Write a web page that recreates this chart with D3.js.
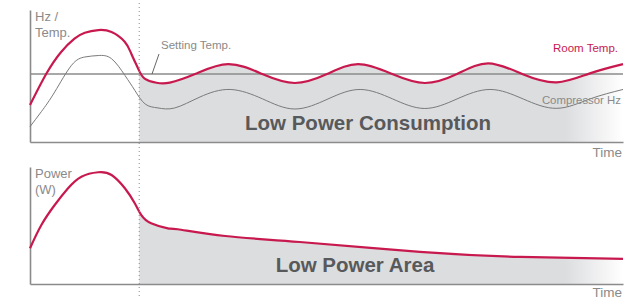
<!DOCTYPE html>
<html><head><meta charset="utf-8">
<script src="https://cdn.jsdelivr.net/npm/d3@7"></script>
<style>
html,body{margin:0;padding:0;background:#fff;}
svg{display:block;font-family:"Liberation Sans",Arial,Helvetica,sans-serif;}
</style></head>
<body>
<script>
// ---- data ----
const timeDomain = [0, 120];
const switchTime = 22.1;          // dotted line: start of low power operation
const settingTemp = 51.5;
const roomTemp = [
  [0,28],[3.3,51.7],[6.3,68.2],[9,78.3],[11.1,82.8],[13.8,84.8],[16.5,83.3],[19.2,75.8],
  [20.5,66.9],[21.9,55.5],[23.2,48],[25.6,44.9],[28.3,45],[33.4,51.5],
  [40.1,59],[47,51.5],[53.6,44.7],[60.1,51.5],[66.4,59],[73.3,51.5],[79.9,44.7],
  [86.4,51.5],[92.7,59.6],[99.6,51.5],[106.6,45.2],[113.3,52],[120,59]
];
const compressorHz = [
  [0,11.6],[2.3,23],[5,37.9],[8.4,58.1],[11.1,64.4],[13.8,65.5],[16.5,63.1],[19.2,50.5],
  [21.2,39.2],[23.3,28.8],[25.9,25.8],[29.3,25.8],[34.4,34.1],[40.5,39.8],[47.1,32.6],
  [53.6,25],[60.3,32.6],[66.8,39.8],[73.4,32.6],[79.9,25.4],[86.4,32.6],[93.1,39.8],
  [99.8,32.6],[106.6,25.5],[113.3,32.6],[120,39.8]
];
const power = [
  [0,30.5],[2.3,50.4],[5,67.5],[7.7,81.8],[10.4,91.7],[13.8,95.5],[16.5,93.2],[19.2,81.8],
  [21.2,69],[22.5,59],[24.5,51.9],[27.9,47.6],[29.9,46.8],[39.5,41],[54.6,35.9],
  [78.9,27.4],[99.2,23.1],[120,21.4]
];
const labels = {
  topAxis: ["Hz /", "Temp."], bottomAxis: ["Power", "(W)"], time: "Time",
  setting: "Setting Temp.", room: "Room Temp.", comp: "Compressor Hz",
  topArea: "Low Power Consumption", bottomArea: "Low Power Area"
};

// ---- drawing ----
const W = 634, H = 299;
const RED = "#c8194f", AX = "#8b8b8b", TXT = "#8a8a8a", BOLD = "#58595b", FILL = "#dcdddf";
const svg = d3.select("body").append("svg").attr("width", W).attr("height", H);
const x = d3.scaleLinear().domain(timeDomain).range([30, 623]);
const yT = d3.scaleLinear().domain([0, 100]).range([142, 10]);
const yB = d3.scaleLinear().domain([0, 100]).range([284, 167]);

const defs = svg.append("defs");
const grad = defs.append("linearGradient").attr("id","fade").attr("gradientUnits","userSpaceOnUse")
  .attr("x1", x(switchTime)).attr("x2", x(120)).attr("y1",0).attr("y2",0);
const f0 = (565 - x(switchTime)) / (x(120) - x(switchTime));
grad.append("stop").attr("offset",0).attr("stop-color",FILL);
grad.append("stop").attr("offset",f0).attr("stop-color",FILL);
grad.append("stop").attr("offset",1).attr("stop-color","#ffffff");
defs.append("clipPath").attr("id","clip").append("rect")
  .attr("x", x(switchTime)).attr("y",0).attr("width", x(120)-x(switchTime)).attr("height",H);

const curve = d3.curveNatural;

function panel(y, data, axisTopLabels, labelY) {
  svg.append("path").datum(data).attr("clip-path","url(#clip)")
    .attr("fill","url(#fade)")
    .attr("d", d3.area().curve(curve).x(d=>x(d[0])).y0(y(0)).y1(d=>y(d[1])));
  svg.append("g").attr("transform",`translate(0,${y(0)})`)
    .call(d3.axisBottom(x).tickValues([]).tickSizeOuter(0))
    .call(g=>g.select(".domain").attr("stroke",AX).attr("stroke-width",1.6));
  svg.append("g").attr("transform",`translate(${x(0)},0)`)
    .call(d3.axisLeft(y).tickValues([]).tickSizeOuter(0))
    .call(g=>g.select(".domain").attr("stroke",AX).attr("stroke-width",1.6));
  const t = svg.append("text").attr("fill",TXT).attr("font-size",13);
  axisTopLabels.forEach((s,i)=>t.append("tspan").attr("x",35).attr("y",labelY + i*16).text(s));
}

panel(yT, roomTemp, labels.topAxis, 21);
panel(yB, power, labels.bottomAxis, 178);

svg.append("line").attr("x1",x(0)).attr("x2",x(120)).attr("y1",yT(settingTemp)).attr("y2",yT(settingTemp))
  .attr("stroke",AX).attr("stroke-width",1.4);

svg.append("path").datum(compressorHz).attr("fill","none").attr("stroke","#7a7a7a").attr("stroke-width",1)
  .attr("d", d3.line().curve(curve).x(d=>x(d[0])).y(d=>yT(d[1])));
svg.append("path").datum(roomTemp).attr("fill","none").attr("stroke",RED).attr("stroke-width",2.2)
  .attr("d", d3.line().curve(curve).x(d=>x(d[0])).y(d=>yT(d[1])));
svg.append("path").datum(power).attr("fill","none").attr("stroke",RED).attr("stroke-width",2.2)
  .attr("d", d3.line().curve(curve).x(d=>x(d[0])).y(d=>yB(d[1])));

svg.append("line").attr("x1",x(switchTime)).attr("x2",x(switchTime)).attr("y1",3).attr("y2",H)
  .attr("stroke","#8a8a8a").attr("stroke-width",1).attr("stroke-dasharray","1,3");

svg.append("line").attr("x1",152).attr("y1",yT(settingTemp)).attr("x2",159).attr("y2",54)
  .attr("stroke","#555").attr("stroke-width",0.9);

svg.append("text").attr("x",161).attr("y",49).attr("fill",TXT).attr("font-size",11.5).text(labels.setting);
svg.append("text").attr("x",618).attr("y",52).attr("text-anchor","end").attr("fill",RED).attr("font-size",11.5).text(labels.room);
svg.append("text").attr("x",621).attr("y",104).attr("text-anchor","end").attr("fill",TXT).attr("font-size",11.4).text(labels.comp);
svg.append("text").attr("x",622).attr("y",157).attr("text-anchor","end").attr("fill",TXT).attr("font-size",13.5).text(labels.time);
svg.append("text").attr("x",622).attr("y",297).attr("text-anchor","end").attr("fill",TXT).attr("font-size",13.5).text(labels.time);
svg.append("text").attr("x",368).attr("y",130).attr("text-anchor","middle").attr("fill",BOLD)
  .attr("font-size",20.5).attr("font-weight","bold").text(labels.topArea);
svg.append("text").attr("x",355).attr("y",272).attr("text-anchor","middle").attr("fill",BOLD)
  .attr("font-size",20.5).attr("font-weight","bold").text(labels.bottomArea);
</script>
</body></html>
